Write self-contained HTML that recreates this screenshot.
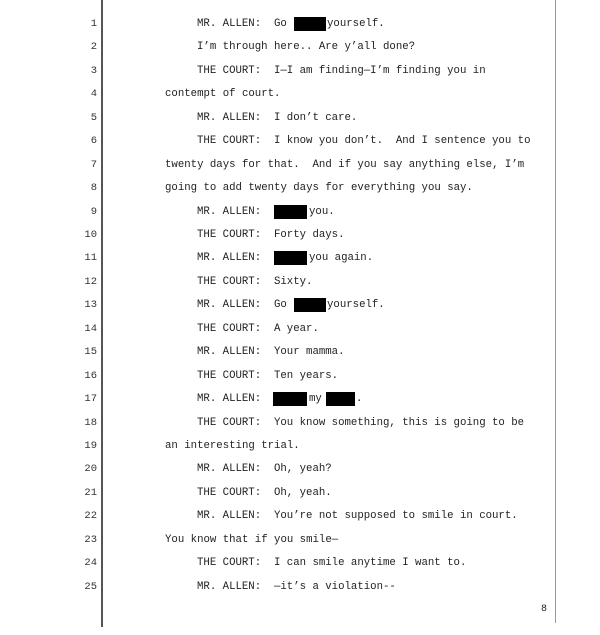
<!DOCTYPE html>
<html><head><meta charset="utf-8"><style>
html,body{margin:0;padding:0;background:#fff;}
body{width:600px;height:635px;position:relative;overflow:hidden;font-family:"Liberation Mono",monospace;font-size:10.7px;color:#222;}
.t{position:absolute;white-space:pre;line-height:14px;}
.n{position:absolute;width:30px;left:67px;text-align:right;line-height:14px;font-size:10.5px;color:#333;}
.b{position:absolute;background:#000;height:14px;}
</style></head><body>
<div style="position:absolute;left:101px;top:0;width:2px;height:627px;background:#555"></div>
<div style="position:absolute;left:555px;top:0;width:1px;height:623px;background:#999"></div>

<div class="n" style="top:17px">1</div>
<div class="n" style="top:40px">2</div>
<div class="n" style="top:64px">3</div>
<div class="n" style="top:87px">4</div>
<div class="n" style="top:111px">5</div>
<div class="n" style="top:134px">6</div>
<div class="n" style="top:158px">7</div>
<div class="n" style="top:181px">8</div>
<div class="n" style="top:205px">9</div>
<div class="n" style="top:228px">10</div>
<div class="n" style="top:251px">11</div>
<div class="n" style="top:275px">12</div>
<div class="n" style="top:298px">13</div>
<div class="n" style="top:322px">14</div>
<div class="n" style="top:345px">15</div>
<div class="n" style="top:369px">16</div>
<div class="n" style="top:392px">17</div>
<div class="n" style="top:416px">18</div>
<div class="n" style="top:439px">19</div>
<div class="n" style="top:462px">20</div>
<div class="n" style="top:486px">21</div>
<div class="n" style="top:509px">22</div>
<div class="n" style="top:533px">23</div>
<div class="n" style="top:556px">24</div>
<div class="n" style="top:580px">25</div>

<div class="t" style="left:197px;top:17px">MR. ALLEN:  Go</div>
<div class="b" style="left:294px;top:17px;width:32px"></div>
<div class="t" style="left:327px;top:17px">yourself.</div>
<div class="t" style="left:197px;top:40px">I’m through here.. Are y’all done?</div>
<div class="t" style="left:197px;top:64px">THE COURT:  I—I am finding—I’m finding you in</div>
<div class="t" style="left:165px;top:87px">contempt of court.</div>
<div class="t" style="left:197px;top:111px">MR. ALLEN:  I don’t care.</div>
<div class="t" style="left:197px;top:134px">THE COURT:  I know you don’t.  And I sentence you to</div>
<div class="t" style="left:165px;top:158px">twenty days for that.  And if you say anything else, I’m</div>
<div class="t" style="left:165px;top:181px">going to add twenty days for everything you say.</div>
<div class="t" style="left:197px;top:205px">MR. ALLEN:</div>
<div class="b" style="left:274px;top:205px;width:33px"></div>
<div class="t" style="left:309px;top:205px">you.</div>
<div class="t" style="left:197px;top:228px">THE COURT:  Forty days.</div>
<div class="t" style="left:197px;top:251px">MR. ALLEN:</div>
<div class="b" style="left:274px;top:251px;width:33px"></div>
<div class="t" style="left:309px;top:251px">you again.</div>
<div class="t" style="left:197px;top:275px">THE COURT:  Sixty.</div>
<div class="t" style="left:197px;top:298px">MR. ALLEN:  Go</div>
<div class="b" style="left:294px;top:298px;width:32px"></div>
<div class="t" style="left:327px;top:298px">yourself.</div>
<div class="t" style="left:197px;top:322px">THE COURT:  A year.</div>
<div class="t" style="left:197px;top:345px">MR. ALLEN:  Your mamma.</div>
<div class="t" style="left:197px;top:369px">THE COURT:  Ten years.</div>
<div class="t" style="left:197px;top:392px">MR. ALLEN:</div>
<div class="b" style="left:273px;top:392px;width:34px"></div>
<div class="t" style="left:309px;top:392px">my</div>
<div class="b" style="left:326px;top:392px;width:29px"></div>
<div class="t" style="left:356px;top:392px">.</div>
<div class="t" style="left:197px;top:416px">THE COURT:  You know something, this is going to be</div>
<div class="t" style="left:165px;top:439px">an interesting trial.</div>
<div class="t" style="left:197px;top:462px">MR. ALLEN:  Oh, yeah?</div>
<div class="t" style="left:197px;top:486px">THE COURT:  Oh, yeah.</div>
<div class="t" style="left:197px;top:509px">MR. ALLEN:  You’re not supposed to smile in court.</div>
<div class="t" style="left:165px;top:533px">You know that if you smile—</div>
<div class="t" style="left:197px;top:556px">THE COURT:  I can smile anytime I want to.</div>
<div class="t" style="left:197px;top:580px">MR. ALLEN:  —it’s a violation--</div>

<div class="t" style="left:541px;top:603px;font-size:10px">8</div>
</body></html>
